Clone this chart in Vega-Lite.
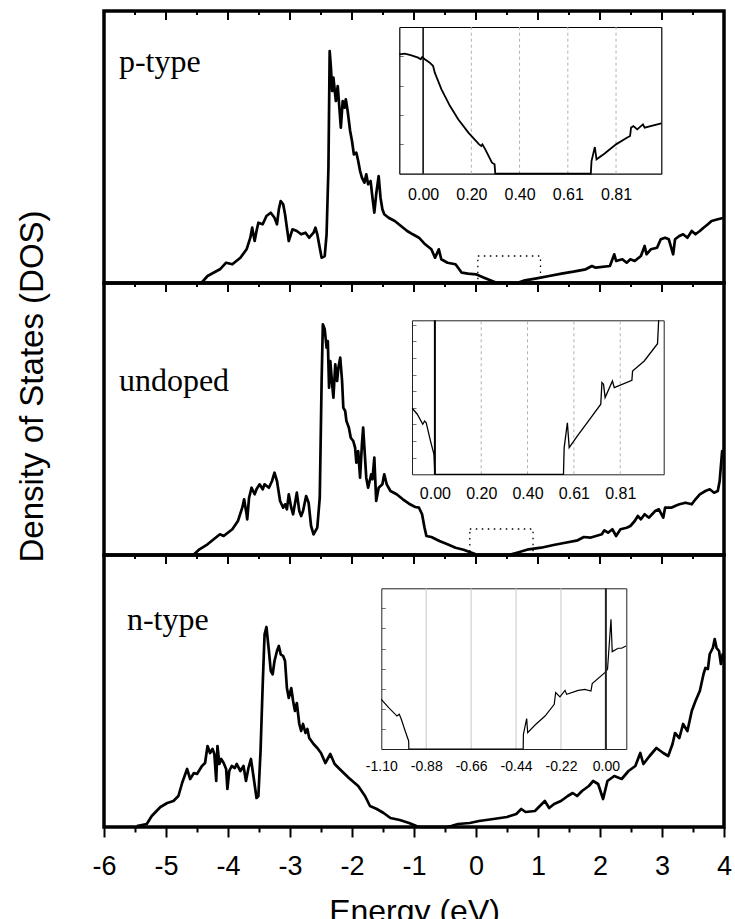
{
"$schema": "https://vega.github.io/schema/vega-lite/v6.json",
"padding": {"left": 14, "top": 8, "right": 5, "bottom": 0},
"background": "white",
"config": {"view": {"stroke": "black", "strokeWidth": 3.5}, "axis": {"labelFont": "Liberation Sans", "titleFont": "Liberation Sans"}},
"spacing": 0,
"bounds": "flush",
"datasets": {
"tM": [{"e":-6},{"e":-5},{"e":-4},{"e":-3},{"e":-2},{"e":-1},{"e":0},{"e":1},{"e":2},{"e":3},{"e":4}],
"tm": [{"e":-5.5},{"e":-4.5},{"e":-3.5},{"e":-2.5},{"e":-1.5},{"e":-0.5},{"e":0.5},{"e":1.5},{"e":2.5},{"e":3.5}],
"p": [{"e":-4.43,"d":0},{"e":-4.33,"d":7},{"e":-4.13,"d":13.7},{"e":-4.03,"d":20.3},{"e":-3.93,"d":18.7},{"e":-3.80,"d":25.3},{"e":-3.70,"d":33.7},{"e":-3.64,"d":45.3},{"e":-3.61,"d":55.3},{"e":-3.57,"d":42},{"e":-3.54,"d":52},{"e":-3.51,"d":60.3},{"e":-3.44,"d":58.7},{"e":-3.38,"d":67},{"e":-3.31,"d":70.3},{"e":-3.25,"d":65.3},{"e":-3.21,"d":58.7},{"e":-3.18,"d":73.7},{"e":-3.15,"d":82},{"e":-3.11,"d":78.7},{"e":-3.08,"d":68.7},{"e":-3.05,"d":55.3},{"e":-3.02,"d":42},{"e":-2.96,"d":53.7},{"e":-2.89,"d":52},{"e":-2.82,"d":48.7},{"e":-2.75,"d":50.3},{"e":-2.69,"d":45.3},{"e":-2.62,"d":50.3},{"e":-2.59,"d":55.3},{"e":-2.56,"d":48.7},{"e":-2.52,"d":35.3},{"e":-2.49,"d":25.3},{"e":-2.44,"d":27},{"e":-2.41,"d":48.7},{"e":-2.38,"d":115.3},{"e":-2.36,"d":232},{"e":-2.34,"d":215.3},{"e":-2.32,"d":192},{"e":-2.30,"d":205.3},{"e":-2.26,"d":182},{"e":-2.23,"d":197},{"e":-2.20,"d":172},{"e":-2.18,"d":155.3},{"e":-2.15,"d":182},{"e":-2.12,"d":175.3},{"e":-2.10,"d":183.7},{"e":-2.07,"d":172},{"e":-2.03,"d":152},{"e":-2.00,"d":142},{"e":-1.97,"d":128.7},{"e":-1.93,"d":130.3},{"e":-1.90,"d":122},{"e":-1.87,"d":112},{"e":-1.84,"d":105.3},{"e":-1.80,"d":100.3},{"e":-1.77,"d":108.7},{"e":-1.74,"d":98.7},{"e":-1.70,"d":102},{"e":-1.67,"d":85.3},{"e":-1.64,"d":70.3},{"e":-1.61,"d":88.7},{"e":-1.57,"d":107},{"e":-1.54,"d":85.3},{"e":-1.51,"d":73.7},{"e":-1.48,"d":68.7},{"e":-1.41,"d":65.3},{"e":-1.31,"d":62},{"e":-1.21,"d":57},{"e":-1.11,"d":52},{"e":-1.02,"d":48.7},{"e":-0.92,"d":45.3},{"e":-0.82,"d":38.7},{"e":-0.72,"d":33.7},{"e":-0.66,"d":25.3},{"e":-0.60,"d":33.7},{"e":-0.56,"d":23.7},{"e":-0.46,"d":20.3},{"e":-0.33,"d":18.7},{"e":-0.23,"d":10.3},{"e":-0.13,"d":9.3},{"e":0.00,"d":8.7},{"e":0.13,"d":5.3},{"e":0.26,"d":2},{"e":0.32,"d":0.5},{"e":0.40,"d":0},{"e":0.66,"d":0},{"e":0.79,"d":2.7},{"e":0.98,"d":4.7},{"e":1.18,"d":7},{"e":1.38,"d":9.3},{"e":1.57,"d":11.3},{"e":1.77,"d":13.7},{"e":1.87,"d":17},{"e":1.93,"d":15.3},{"e":2.16,"d":17},{"e":2.23,"d":28.7},{"e":2.26,"d":22},{"e":2.36,"d":23.7},{"e":2.43,"d":20.3},{"e":2.49,"d":23.7},{"e":2.56,"d":22},{"e":2.66,"d":27},{"e":2.72,"d":37},{"e":2.75,"d":28.7},{"e":2.82,"d":33.7},{"e":2.92,"d":35.3},{"e":2.98,"d":43.7},{"e":3.05,"d":45.3},{"e":3.11,"d":43.7},{"e":3.18,"d":28.7},{"e":3.21,"d":43.7},{"e":3.28,"d":47},{"e":3.34,"d":48.7},{"e":3.41,"d":45.3},{"e":3.48,"d":52},{"e":3.54,"d":48.7},{"e":3.61,"d":52},{"e":3.67,"d":55.3},{"e":3.74,"d":58.7},{"e":3.80,"d":62},{"e":3.90,"d":63.7},{"e":4.00,"d":65.3}],
"u": [{"e":-4.56,"d":0},{"e":-4.46,"d":5.7},{"e":-4.33,"d":10.7},{"e":-4.20,"d":17.3},{"e":-4.13,"d":20.7},{"e":-4.07,"d":19},{"e":-3.93,"d":25.7},{"e":-3.84,"d":34},{"e":-3.77,"d":47.3},{"e":-3.74,"d":55.7},{"e":-3.70,"d":40.7},{"e":-3.69,"d":35.7},{"e":-3.66,"d":57.3},{"e":-3.62,"d":67.3},{"e":-3.57,"d":60.7},{"e":-3.54,"d":65.7},{"e":-3.49,"d":70.7},{"e":-3.44,"d":65.7},{"e":-3.41,"d":70.7},{"e":-3.34,"d":67.3},{"e":-3.29,"d":74},{"e":-3.25,"d":82.3},{"e":-3.21,"d":74},{"e":-3.16,"d":54},{"e":-3.11,"d":47.3},{"e":-3.08,"d":50.7},{"e":-3.05,"d":45.7},{"e":-3.02,"d":60.7},{"e":-2.98,"d":47.3},{"e":-2.95,"d":40.7},{"e":-2.89,"d":62.3},{"e":-2.85,"d":44},{"e":-2.82,"d":39},{"e":-2.79,"d":44},{"e":-2.74,"d":59},{"e":-2.70,"d":52.3},{"e":-2.66,"d":29},{"e":-2.62,"d":20.7},{"e":-2.56,"d":27.3},{"e":-2.52,"d":57.3},{"e":-2.49,"d":174},{"e":-2.47,"d":230.7},{"e":-2.44,"d":225.7},{"e":-2.41,"d":207.3},{"e":-2.39,"d":214},{"e":-2.37,"d":167.3},{"e":-2.35,"d":194},{"e":-2.32,"d":170.7},{"e":-2.30,"d":157.3},{"e":-2.27,"d":190.7},{"e":-2.24,"d":174},{"e":-2.22,"d":187.3},{"e":-2.19,"d":197.3},{"e":-2.16,"d":174},{"e":-2.14,"d":147.3},{"e":-2.11,"d":144},{"e":-2.09,"d":134},{"e":-2.05,"d":127.3},{"e":-2.02,"d":117.3},{"e":-1.98,"d":114},{"e":-1.95,"d":107.3},{"e":-1.93,"d":92.3},{"e":-1.90,"d":104},{"e":-1.87,"d":77.3},{"e":-1.84,"d":110.7},{"e":-1.82,"d":127.3},{"e":-1.80,"d":107.3},{"e":-1.77,"d":77.3},{"e":-1.74,"d":67.3},{"e":-1.69,"d":80.7},{"e":-1.67,"d":75.7},{"e":-1.64,"d":97.3},{"e":-1.61,"d":54},{"e":-1.57,"d":67.3},{"e":-1.51,"d":70.7},{"e":-1.48,"d":80.7},{"e":-1.44,"d":70.7},{"e":-1.38,"d":64},{"e":-1.28,"d":60.7},{"e":-1.18,"d":55.7},{"e":-1.08,"d":51.3},{"e":-0.98,"d":48},{"e":-0.92,"d":47.3},{"e":-0.87,"d":40.7},{"e":-0.83,"d":27.3},{"e":-0.80,"d":19},{"e":-0.72,"d":18},{"e":-0.59,"d":14},{"e":-0.46,"d":10.7},{"e":-0.33,"d":7.3},{"e":-0.20,"d":5.3},{"e":-0.07,"d":2.3},{"e":0.03,"d":0},{"e":0.52,"d":0},{"e":0.66,"d":2.3},{"e":0.85,"d":5.7},{"e":1.05,"d":7.3},{"e":1.25,"d":10},{"e":1.44,"d":12.3},{"e":1.64,"d":14.7},{"e":1.74,"d":18},{"e":1.84,"d":17.3},{"e":2.03,"d":20.7},{"e":2.07,"d":24.7},{"e":2.13,"d":22.3},{"e":2.20,"d":25.7},{"e":2.26,"d":19},{"e":2.33,"d":25.7},{"e":2.43,"d":27.3},{"e":2.49,"d":29},{"e":2.56,"d":34},{"e":2.61,"d":39},{"e":2.66,"d":35.7},{"e":2.72,"d":40.7},{"e":2.79,"d":37.3},{"e":2.89,"d":44},{"e":2.95,"d":45.7},{"e":3.02,"d":37.3},{"e":3.05,"d":47.3},{"e":3.15,"d":47.3},{"e":3.21,"d":49},{"e":3.28,"d":50.7},{"e":3.38,"d":52.3},{"e":3.48,"d":50.7},{"e":3.54,"d":55.7},{"e":3.61,"d":60.7},{"e":3.70,"d":64},{"e":3.77,"d":65.7},{"e":3.84,"d":62.3},{"e":3.90,"d":64},{"e":3.93,"d":74},{"e":3.97,"d":104},{"e":4.00,"d":100.7}],
"n": [{"e":-5.47,"d":1},{"e":-5.31,"d":3},{"e":-5.23,"d":11},{"e":-5.09,"d":20},{"e":-4.98,"d":24},{"e":-4.88,"d":26},{"e":-4.80,"d":31},{"e":-4.74,"d":44},{"e":-4.66,"d":58},{"e":-4.61,"d":48},{"e":-4.55,"d":54},{"e":-4.50,"d":53},{"e":-4.42,"d":61},{"e":-4.37,"d":64},{"e":-4.33,"d":81},{"e":-4.29,"d":74},{"e":-4.25,"d":78},{"e":-4.22,"d":73},{"e":-4.19,"d":46},{"e":-4.17,"d":81},{"e":-4.14,"d":63},{"e":-4.11,"d":68},{"e":-4.07,"d":64},{"e":-4.03,"d":58},{"e":-4.01,"d":38},{"e":-3.98,"d":56},{"e":-3.94,"d":61},{"e":-3.89,"d":59},{"e":-3.86,"d":63},{"e":-3.80,"d":56},{"e":-3.75,"d":61},{"e":-3.71,"d":46},{"e":-3.67,"d":59},{"e":-3.63,"d":68},{"e":-3.59,"d":51},{"e":-3.54,"d":29},{"e":-3.51,"d":31},{"e":-3.475,"d":76},{"e":-3.44,"d":142.7},{"e":-3.41,"d":192.7},{"e":-3.38,"d":200},{"e":-3.34,"d":176},{"e":-3.31,"d":156},{"e":-3.28,"d":152.7},{"e":-3.25,"d":166},{"e":-3.21,"d":176},{"e":-3.18,"d":181},{"e":-3.15,"d":172.7},{"e":-3.11,"d":171},{"e":-3.08,"d":166},{"e":-3.05,"d":139},{"e":-3.02,"d":129},{"e":-2.98,"d":139},{"e":-2.95,"d":126},{"e":-2.92,"d":116},{"e":-2.89,"d":124},{"e":-2.85,"d":103},{"e":-2.82,"d":96},{"e":-2.79,"d":103},{"e":-2.75,"d":94},{"e":-2.72,"d":98},{"e":-2.69,"d":89},{"e":-2.62,"d":83},{"e":-2.56,"d":79},{"e":-2.50,"d":74},{"e":-2.43,"d":64},{"e":-2.35,"d":73},{"e":-2.28,"d":63},{"e":-2.20,"d":58},{"e":-2.05,"d":49},{"e":-1.90,"d":41},{"e":-1.79,"d":31},{"e":-1.71,"d":21},{"e":-1.60,"d":18},{"e":-1.49,"d":14},{"e":-1.38,"d":9},{"e":-1.23,"d":7},{"e":-1.08,"d":4},{"e":-0.96,"d":1},{"e":-0.90,"d":0},{"e":-0.47,"d":0},{"e":-0.40,"d":1},{"e":-0.29,"d":3},{"e":-0.10,"d":4},{"e":0.05,"d":6},{"e":0.28,"d":8},{"e":0.50,"d":10},{"e":0.65,"d":13},{"e":0.73,"d":18},{"e":0.80,"d":15},{"e":0.95,"d":16},{"e":1.11,"d":26},{"e":1.18,"d":19},{"e":1.26,"d":23},{"e":1.37,"d":26},{"e":1.48,"d":31},{"e":1.56,"d":34},{"e":1.63,"d":31},{"e":1.71,"d":36},{"e":1.82,"d":41},{"e":1.89,"d":46},{"e":1.97,"d":43},{"e":2.05,"d":28},{"e":2.12,"d":46},{"e":2.23,"d":51},{"e":2.35,"d":48},{"e":2.46,"d":56},{"e":2.57,"d":61},{"e":2.65,"d":74},{"e":2.70,"d":63},{"e":2.80,"d":71},{"e":2.91,"d":79},{"e":3.02,"d":74},{"e":3.10,"d":71},{"e":3.17,"d":83},{"e":3.21,"d":94},{"e":3.28,"d":89},{"e":3.34,"d":103},{"e":3.41,"d":96},{"e":3.48,"d":116},{"e":3.54,"d":126},{"e":3.61,"d":136},{"e":3.67,"d":153},{"e":3.70,"d":159},{"e":3.74,"d":158},{"e":3.77,"d":173},{"e":3.82,"d":179},{"e":3.85,"d":188},{"e":3.88,"d":179},{"e":3.92,"d":176},{"e":3.95,"d":163},{"e":3.98,"d":173},{"e":4.00,"d":169}],
"pi": [{"e":-0.1,"d":81.4},{"e":-0.077,"d":81.8},{"e":-0.049,"d":80.7},{"e":-0.021,"d":79.1},{"e":-0.01,"d":78},{"e":-0.004,"d":79.5},{"e":0.007,"d":78},{"e":0.028,"d":75.7},{"e":0.042,"d":73.4},{"e":0.049,"d":68.9},{"e":0.077,"d":57.5},{"e":0.113,"d":46.1},{"e":0.148,"d":37},{"e":0.19,"d":28},{"e":0.235,"d":20},{"e":0.244,"d":18.9},{"e":0.249,"d":20},{"e":0.261,"d":16.6},{"e":0.289,"d":7.5},{"e":0.3,"d":6.4},{"e":0.303,"d":0},{"e":0.704,"d":0},{"e":0.707,"d":8.6},{"e":0.721,"d":18.2},{"e":0.728,"d":9.8},{"e":0.761,"d":13.6},{"e":0.81,"d":20},{"e":0.852,"d":24.1},{"e":0.869,"d":25.7},{"e":0.873,"d":31.4},{"e":0.883,"d":32.5},{"e":0.899,"d":30.2},{"e":0.923,"d":33.6},{"e":0.93,"d":31.4},{"e":1.0,"d":34.3}],
"ui": [{"e":-0.099,"d":42.9},{"e":-0.077,"d":39},{"e":-0.053,"d":32.5},{"e":-0.045,"d":34.6},{"e":-0.038,"d":33.5},{"e":-0.019,"d":21.6},{"e":-0.004,"d":13},{"e":0.0,"d":0},{"e":0.562,"d":0},{"e":0.565,"d":17.3},{"e":0.579,"d":33.5},{"e":0.587,"d":17.3},{"e":0.623,"d":24.9},{"e":0.682,"d":36.8},{"e":0.725,"d":45.5},{"e":0.73,"d":59.5},{"e":0.737,"d":58.4},{"e":0.744,"d":49.8},{"e":0.776,"d":60.6},{"e":0.784,"d":56.3},{"e":0.861,"d":61},{"e":0.864,"d":67.1},{"e":0.915,"d":73.6},{"e":0.973,"d":84.8},{"e":0.978,"d":100}],
"ni": [{"e":-1.1,"d":30.9},{"e":-1.064,"d":25.7},{"e":-1.023,"d":20.5},{"e":-1.012,"d":21.6},{"e":-1.002,"d":18.5},{"e":-0.983,"d":11.2},{"e":-0.966,"d":5},{"e":-0.965,"d":0},{"e":-0.405,"d":0},{"e":-0.404,"d":9.1},{"e":-0.388,"d":18.9},{"e":-0.383,"d":10.2},{"e":-0.347,"d":14.9},{"e":-0.298,"d":20.5},{"e":-0.253,"d":27.8},{"e":-0.246,"d":35.1},{"e":-0.225,"d":32.4},{"e":-0.2,"d":36.5},{"e":-0.192,"d":34},{"e":-0.135,"d":36.5},{"e":-0.103,"d":37.1},{"e":-0.073,"d":36.1},{"e":-0.067,"d":40.7},{"e":-0.005,"d":47.5},{"e":0.008,"d":49.6},{"e":0.025,"d":80.7},{"e":0.031,"d":60.6},{"e":0.06,"d":62.7},{"e":0.077,"d":62.7},{"e":0.098,"d":64.1}],
"gp": [{"e":0.2025},{"e":0.4049},{"e":0.6075},{"e":0.81}],
"gn": [{"e":-0.88},{"e":-0.66},{"e":-0.44},{"e":-0.22}],
"rp": [{"e1":0.03,"e2":1.04,"d1":0,"d2":27}],
"ru": [{"e1":-0.1,"e2":0.92,"d1":0,"d2":26}],
"ef": [{"e":0}]
},
"vconcat": [
{
"width": 620, "height": 272,
"resolve": {"scale": {"x": "independent", "y": "independent"}},
"layer": [
{"data": {"name": "p"}, "mark": {"type": "line", "color": "black", "strokeWidth": 2.7, "strokeJoin": "round"},
 "encoding": {
  "x": {"field": "e", "type": "quantitative", "scale": {"domain": [-6, 4], "nice": false, "zero": false}, "axis": null},
  "y": {"field": "d", "type": "quantitative", "scale": {"domain": [0, 272], "nice": false, "zero": false}, "axis": null}}},
{"data": {"name": "tM"}, "mark": {"type": "rule", "stroke": "black", "strokeWidth": 2},
 "encoding": {
  "x": {"field": "e", "type": "quantitative", "scale": {"domain": [-6, 4], "range": [0, 620], "nice": false, "zero": false}, "axis": null},
  "y": {"datum": 100, "type": "quantitative", "scale": {"domain": [0, 100], "range": [0, 9], "nice": false, "zero": false}, "axis": null},
  "y2": {"datum": 0}}},
{"data": {"name": "tm"}, "mark": {"type": "rule", "stroke": "black", "strokeWidth": 2},
 "encoding": {
  "x": {"field": "e", "type": "quantitative", "scale": {"domain": [-6, 4], "range": [0, 620], "nice": false, "zero": false}, "axis": null},
  "y": {"datum": 100, "type": "quantitative", "scale": {"domain": [0, 100], "range": [0, 4], "nice": false, "zero": false}, "axis": null},
  "y2": {"datum": 0}}},
{"data": {"values": [{"label": "p-type"}]}, "mark": {"type": "text", "font": "Liberation Serif", "fontSize": 32, "align": "left", "baseline": "alphabetic", "color": "black"},
 "encoding": {
  "x": {"datum": -5.76, "type": "quantitative", "scale": {"domain": [-6, 4], "nice": false, "zero": false}, "axis": null},
  "y": {"datum": 211, "type": "quantitative", "scale": {"domain": [0, 272], "nice": false, "zero": false}, "axis": null},
  "text": {"field": "label"}}},
{"data": {"name": "rp"}, "mark": {"type": "rect", "fill": null, "stroke": "black", "strokeWidth": 1.3, "strokeDash": [1.5, 4.5]},
 "encoding": {
  "x": {"field": "e1", "type": "quantitative", "scale": {"domain": [-6, 4], "nice": false, "zero": false}, "axis": null},
  "x2": {"field": "e2"},
  "y": {"field": "d1", "type": "quantitative", "scale": {"domain": [0, 272], "nice": false, "zero": false}, "axis": null},
  "y2": {"field": "d2"}}},
{"data": {"name": "gp"}, "mark": {"type": "rule", "stroke": "#b0b0b0", "strokeWidth": 1, "strokeDash": [3, 3]},
 "encoding": {
  "x": {"field": "e", "type": "quantitative", "scale": {"domain": [-0.1, 1.0], "range": [295.3, 557.3], "nice": false, "zero": false}, "axis": {"orient": "bottom", "offset": -109.3, "values": [0, 0.2025, 0.4049, 0.6075, 0.81], "labelExpr": "format(datum.value, '.2f')", "ticks": false, "grid": false, "domain": true, "domainColor": "black", "domainWidth": 1.2, "labelFontSize": 16, "labelColor": "black", "labelPadding": 13, "labelFlush": false, "labelOverlap": false, "title": null}},
  "y": {"datum": 0, "type": "quantitative", "scale": {"domain": [0, 100], "range": [162.7, 16], "nice": false, "zero": false}, "axis": {"orient": "right", "offset": -324.7, "values": [20, 40, 60, 80], "labels": false, "tickSize": 4, "tickColor": "#777", "tickWidth": 1, "domain": true, "domainColor": "black", "domainWidth": 1.2, "grid": false, "title": null}},
  "y2": {"datum": 100}}},
{"data": {"name": "pi"}, "mark": {"type": "line", "color": "black", "strokeWidth": 1.8},
 "encoding": {
  "x": {"field": "e", "type": "quantitative", "scale": {"domain": [-0.1, 1.0], "range": [295.3, 557.3], "nice": false, "zero": false}, "axis": {"orient": "top", "offset": -16, "labels": false, "ticks": false, "grid": false, "domain": true, "domainColor": "black", "domainWidth": 1.2, "title": null}},
  "y": {"field": "d", "type": "quantitative", "scale": {"domain": [0, 100], "range": [162.7, 16], "nice": false, "zero": false}, "axis": {"orient": "right", "offset": -62.7, "labels": false, "ticks": false, "grid": false, "domain": true, "domainColor": "black", "domainWidth": 1.2, "title": null}}}},
{"data": {"name": "ef"}, "mark": {"type": "rule", "stroke": "black", "strokeWidth": 1.5},
 "encoding": {
  "x": {"field": "e", "type": "quantitative", "scale": {"domain": [-0.1, 1.0], "range": [295.3, 557.3], "nice": false, "zero": false}, "axis": null},
  "y": {"datum": 0, "type": "quantitative", "scale": {"domain": [0, 100], "range": [162.7, 16], "nice": false, "zero": false}, "axis": null},
  "y2": {"datum": 100}}}
]
},
{
"width": 620, "height": 272,
"resolve": {"scale": {"x": "independent", "y": "independent"}},
"layer": [
{"data": {"name": "u"}, "mark": {"type": "line", "color": "black", "strokeWidth": 2.7, "strokeJoin": "round"},
 "encoding": {
  "x": {"field": "e", "type": "quantitative", "scale": {"domain": [-6, 4], "nice": false, "zero": false}, "axis": null},
  "y": {"field": "d", "type": "quantitative", "scale": {"domain": [0, 272], "nice": false, "zero": false}, "axis": null}}},
{"data": {"name": "tM"}, "mark": {"type": "rule", "stroke": "black", "strokeWidth": 2},
 "encoding": {
  "x": {"field": "e", "type": "quantitative", "scale": {"domain": [-6, 4], "range": [0, 620], "nice": false, "zero": false}, "axis": null},
  "y": {"datum": 100, "type": "quantitative", "scale": {"domain": [0, 100], "range": [0, 9], "nice": false, "zero": false}, "axis": null},
  "y2": {"datum": 0}}},
{"data": {"name": "tm"}, "mark": {"type": "rule", "stroke": "black", "strokeWidth": 2},
 "encoding": {
  "x": {"field": "e", "type": "quantitative", "scale": {"domain": [-6, 4], "range": [0, 620], "nice": false, "zero": false}, "axis": null},
  "y": {"datum": 100, "type": "quantitative", "scale": {"domain": [0, 100], "range": [0, 4], "nice": false, "zero": false}, "axis": null},
  "y2": {"datum": 0}}},
{"data": {"values": [{"label": "undoped"}]}, "mark": {"type": "text", "font": "Liberation Serif", "fontSize": 32, "align": "left", "baseline": "alphabetic", "color": "black"},
 "encoding": {
  "x": {"datum": -5.76, "type": "quantitative", "scale": {"domain": [-6, 4], "nice": false, "zero": false}, "axis": null},
  "y": {"datum": 164, "type": "quantitative", "scale": {"domain": [0, 272], "nice": false, "zero": false}, "axis": {"orient": "left", "labels": false, "ticks": false, "domain": false, "grid": false, "title": "Density of States (DOS)", "titleFontSize": 33, "titleFontWeight": "normal", "titleColor": "black", "titleX": -72, "titleY": 103, "titleAngle": 270, "titleAlign": "center", "titleBaseline": "middle"}},
  "text": {"field": "label"}}},
{"data": {"name": "ru"}, "mark": {"type": "rect", "fill": null, "stroke": "black", "strokeWidth": 1.3, "strokeDash": [1.5, 4.5]},
 "encoding": {
  "x": {"field": "e1", "type": "quantitative", "scale": {"domain": [-6, 4], "nice": false, "zero": false}, "axis": null},
  "x2": {"field": "e2"},
  "y": {"field": "d1", "type": "quantitative", "scale": {"domain": [0, 272], "nice": false, "zero": false}, "axis": null},
  "y2": {"field": "d2"}}},
{"data": {"name": "gp"}, "mark": {"type": "rule", "stroke": "#b0b0b0", "strokeWidth": 1, "strokeDash": [3, 3]},
 "encoding": {
  "x": {"field": "e", "type": "quantitative", "scale": {"domain": [-0.1, 1.0], "range": [308, 559.7], "nice": false, "zero": false}, "axis": {"orient": "bottom", "offset": -80.7, "values": [0, 0.2025, 0.4049, 0.6075, 0.81], "labelExpr": "format(datum.value, '.2f')", "ticks": false, "grid": false, "domain": true, "domainColor": "#222", "domainWidth": 1, "labelFontSize": 16, "labelColor": "black", "labelPadding": 11.5, "labelFlush": false, "labelOverlap": false, "title": null}},
  "y": {"datum": 0, "type": "quantitative", "scale": {"domain": [0, 100], "range": [191.3, 37.3], "nice": false, "zero": false}, "axis": {"orient": "right", "offset": -312, "values": [10.8, 21.6, 32.4, 43.2, 54, 64.8, 75.6, 86.4, 97.2], "labels": false, "tickSize": 4, "tickColor": "#777", "tickWidth": 1, "domain": true, "domainColor": "#222", "domainWidth": 1, "grid": false, "title": null}},
  "y2": {"datum": 100}}},
{"data": {"name": "ui"}, "mark": {"type": "line", "color": "black", "strokeWidth": 1.3},
 "encoding": {
  "x": {"field": "e", "type": "quantitative", "scale": {"domain": [-0.1, 1.0], "range": [308, 559.7], "nice": false, "zero": false}, "axis": {"orient": "top", "offset": -37.3, "labels": false, "ticks": false, "grid": false, "domain": true, "domainColor": "#222", "domainWidth": 1, "title": null}},
  "y": {"field": "d", "type": "quantitative", "scale": {"domain": [0, 100], "range": [191.3, 37.3], "nice": false, "zero": false}, "axis": {"orient": "right", "offset": -60.3, "labels": false, "ticks": false, "grid": false, "domain": true, "domainColor": "#222", "domainWidth": 1, "title": null}}}},
{"data": {"name": "ef"}, "mark": {"type": "rule", "stroke": "black", "strokeWidth": 2},
 "encoding": {
  "x": {"field": "e", "type": "quantitative", "scale": {"domain": [-0.1, 1.0], "range": [308, 559.7], "nice": false, "zero": false}, "axis": null},
  "y": {"datum": 0, "type": "quantitative", "scale": {"domain": [0, 100], "range": [191.3, 37.3], "nice": false, "zero": false}, "axis": null},
  "y2": {"datum": 100}}}
]
},
{
"width": 620, "height": 272,
"resolve": {"scale": {"x": "independent", "y": "independent"}},
"layer": [
{"data": {"name": "n"}, "mark": {"type": "line", "color": "black", "strokeWidth": 2.7, "strokeJoin": "round"},
 "encoding": {
  "x": {"field": "e", "type": "quantitative", "scale": {"domain": [-6, 4], "nice": false, "zero": false}, "axis": null},
  "y": {"field": "d", "type": "quantitative", "scale": {"domain": [0, 272], "nice": false, "zero": false}, "axis": null}}},
{"data": {"name": "tM"}, "mark": {"type": "rule", "stroke": "black", "strokeWidth": 2},
 "encoding": {
  "x": {"field": "e", "type": "quantitative", "scale": {"domain": [-6, 4], "range": [0, 620], "nice": false, "zero": false}, "axis": null},
  "y": {"datum": 100, "type": "quantitative", "scale": {"domain": [0, 100], "range": [0, 9], "nice": false, "zero": false}, "axis": null},
  "y2": {"datum": 0}}},
{"data": {"name": "tm"}, "mark": {"type": "rule", "stroke": "black", "strokeWidth": 2},
 "encoding": {
  "x": {"field": "e", "type": "quantitative", "scale": {"domain": [-6, 4], "range": [0, 620], "nice": false, "zero": false}, "axis": null},
  "y": {"datum": 100, "type": "quantitative", "scale": {"domain": [0, 100], "range": [0, 4], "nice": false, "zero": false}, "axis": null},
  "y2": {"datum": 0}}},
{"data": {"values": [{"label": "n-type"}]}, "mark": {"type": "text", "font": "Liberation Serif", "fontSize": 32, "align": "left", "baseline": "alphabetic", "color": "black"},
 "encoding": {
  "x": {"datum": -5.63, "type": "quantitative", "scale": {"domain": [-6, 4], "nice": false, "zero": false}, "axis": {"orient": "bottom", "values": [-6,-5.5,-5,-4.5,-4,-3.5,-3,-2.5,-2,-1.5,-1,-0.5,0,0.5,1,1.5,2,2.5,3,3.5,4], "labelExpr": "abs(datum.value - round(datum.value)) < 0.01 ? toString(round(datum.value)) : ''", "tickSize": {"condition": {"test": "abs(datum.value - round(datum.value)) < 0.01", "value": 10}, "value": 5}, "tickWidth": 2, "tickColor": "black", "domain": false, "grid": false, "labelFontSize": 27, "labelColor": "black", "labelPadding": 16, "labelFlush": false, "labelOverlap": false, "title": "Energy (eV)", "titleFontSize": 32, "titleFontWeight": "normal", "titleColor": "black", "titlePadding": 17}},
  "y": {"datum": 197, "type": "quantitative", "scale": {"domain": [0, 272], "nice": false, "zero": false}, "axis": null},
  "text": {"field": "label"}}},
{"data": {"name": "gn"}, "mark": {"type": "rule", "stroke": "#c8c8c8", "strokeWidth": 1},
 "encoding": {
  "x": {"field": "e", "type": "quantitative", "scale": {"domain": [-1.1, 0.1], "range": [277.3, 522.3], "nice": false, "zero": false}, "axis": {"orient": "bottom", "offset": -78, "values": [-1.1, -0.88, -0.66, -0.44, -0.22, 0], "labelExpr": "replace(format(datum.value, '.2f'), '−', '-')", "ticks": false, "grid": false, "domain": true, "domainColor": "#222", "domainWidth": 1, "labelFontSize": 14, "labelColor": "black", "labelPadding": 10, "labelFlush": false, "labelOverlap": false, "title": null}},
  "y": {"datum": 0, "type": "quantitative", "scale": {"domain": [0, 100], "range": [194, 33.3], "nice": false, "zero": false}, "axis": {"orient": "right", "offset": -342.7, "values": [12.5, 25, 37.5, 50, 62.5, 75, 87.5], "labels": false, "tickSize": 4, "tickColor": "#777", "tickWidth": 1, "domain": true, "domainColor": "#222", "domainWidth": 1, "grid": false, "title": null}},
  "y2": {"datum": 100}}},
{"data": {"name": "ni"}, "mark": {"type": "line", "color": "black", "strokeWidth": 1.2},
 "encoding": {
  "x": {"field": "e", "type": "quantitative", "scale": {"domain": [-1.1, 0.1], "range": [277.3, 522.3], "nice": false, "zero": false}, "axis": {"orient": "top", "offset": -33.3, "labels": false, "ticks": false, "grid": false, "domain": true, "domainColor": "#222", "domainWidth": 1, "title": null}},
  "y": {"field": "d", "type": "quantitative", "scale": {"domain": [0, 100], "range": [194, 33.3], "nice": false, "zero": false}, "axis": {"orient": "right", "offset": -97.7, "labels": false, "ticks": false, "grid": false, "domain": true, "domainColor": "#222", "domainWidth": 1, "title": null}}}},
{"data": {"name": "ef"}, "mark": {"type": "rule", "stroke": "#222", "strokeWidth": 2},
 "encoding": {
  "x": {"field": "e", "type": "quantitative", "scale": {"domain": [-1.1, 0.1], "range": [277.3, 522.3], "nice": false, "zero": false}, "axis": null},
  "y": {"datum": 0, "type": "quantitative", "scale": {"domain": [0, 100], "range": [194, 33.3], "nice": false, "zero": false}, "axis": null},
  "y2": {"datum": 100}}}
]
}
]
}
